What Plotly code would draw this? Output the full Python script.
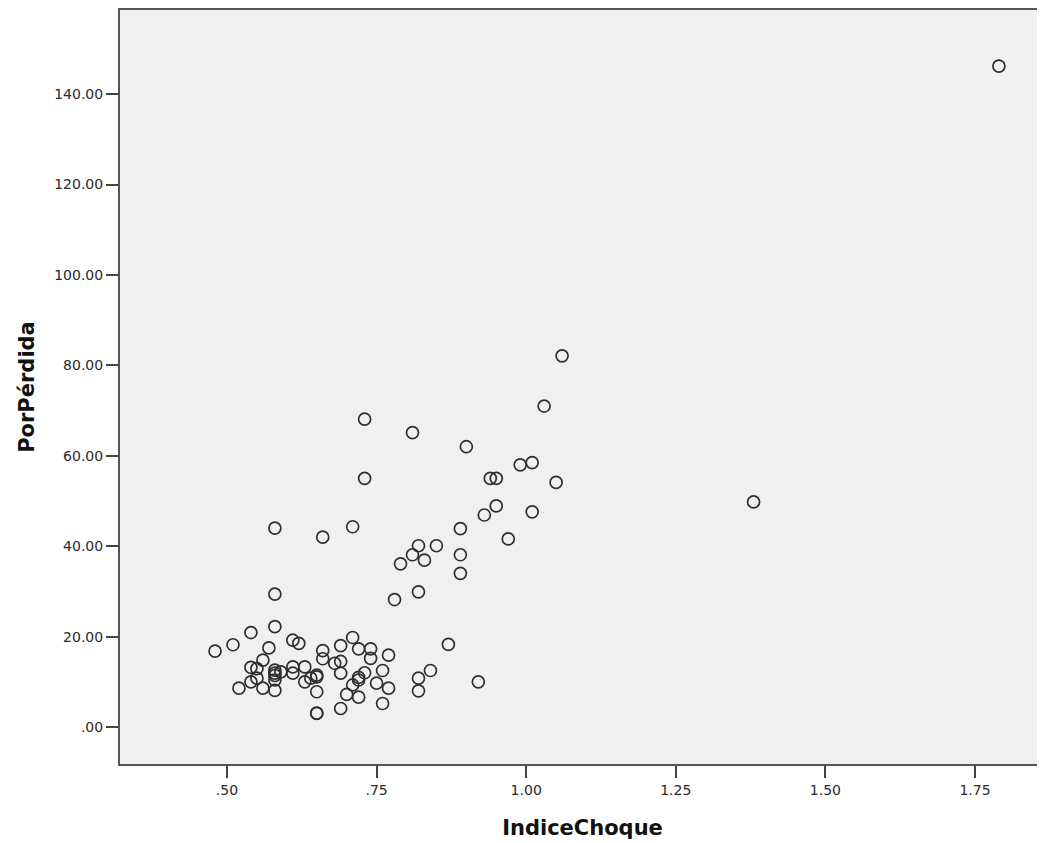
import plotly.graph_objects as go

indice_choque = [
    1.79, 1.38, 1.06, 1.03, 0.73, 0.81, 0.90, 0.73, 0.99, 1.01,
    0.94, 0.95, 1.05, 0.95, 0.93, 1.01, 0.89, 0.71, 0.58, 0.66,
    0.97, 0.82, 0.85, 0.81, 0.83, 0.79, 0.89, 0.89, 0.82, 0.78,
    0.58, 0.58, 0.54, 0.51, 0.48, 0.61, 0.62, 0.57, 0.66, 0.66,
    0.56, 0.54, 0.55, 0.58, 0.58, 0.59, 0.61, 0.63, 0.61, 0.58,
    0.54, 0.55, 0.52, 0.56, 0.58, 0.58, 0.63, 0.64, 0.65, 0.65,
    0.65, 0.65, 0.65, 0.69, 0.68, 0.69, 0.69, 0.71, 0.72, 0.74,
    0.74, 0.77, 0.70, 0.71, 0.72, 0.72, 0.73, 0.72, 0.69, 0.75,
    0.76, 0.77, 0.76, 0.82, 0.82, 0.84, 0.87, 0.92,
]
por_perdida = [
    146.2, 49.8, 82.1, 71.0, 68.1, 65.1, 62.0, 55.0, 58.0, 58.5,
    55.0, 55.0, 54.1, 48.9, 46.9, 47.6, 43.9, 44.3, 44.0, 42.0,
    41.6, 40.1, 40.1, 38.1, 36.9, 36.1, 38.1, 34.0, 29.9, 28.2,
    29.4, 22.2, 20.9, 18.2, 16.8, 19.2, 18.5, 17.5, 16.9, 15.1,
    14.8, 13.2, 12.9, 12.6, 11.9, 12.2, 13.3, 13.3, 11.9, 11.4,
    10.0, 10.8, 8.6, 8.6, 8.1, 10.4, 10.0, 10.8, 11.5, 11.1,
    7.8, 3.0, 3.1, 18.0, 14.1, 14.5, 11.9, 19.8, 17.3, 17.3,
    15.2, 15.9, 7.2, 9.3, 10.4, 11.0, 12.0, 6.6, 4.1, 9.7,
    12.5, 8.6, 5.2, 10.8, 8.0, 12.5, 18.3, 10.0,
]

x_tickvals = [0.50, 0.75, 1.00, 1.25, 1.50, 1.75]
x_ticktext = [".50", ".75", "1.00", "1.25", "1.50", "1.75"]
y_tickvals = [0, 20, 40, 60, 80, 100, 120, 140]
y_ticktext = [".00", "20.00", "40.00", "60.00", "80.00", "100.00", "120.00", "140.00"]

FONT = "DejaVu Sans, Liberation Sans, Arial, sans-serif"

fig = go.Figure()
fig.add_trace(go.Scatter(
    x=indice_choque, y=por_perdida, mode="markers",
    marker=dict(symbol="circle-open", size=12, color="#2e2e2e",
                line=dict(width=1.7, color="#2e2e2e")),
    showlegend=False, hoverinfo="x+y",
))

fig.update_layout(
    width=1037, height=835,
    margin=dict(l=112, r=0, t=2, b=79),
    paper_bgcolor="white",
    plot_bgcolor="#F0F0F0",
    font=dict(family=FONT, size=13, color="#222222"),
)
fig.update_xaxes(
    range=[0.3212, 1.867],
    tickvals=x_tickvals, ticktext=x_ticktext,
    ticks="outside", ticklen=12, tickwidth=1.5, tickcolor="#444444",
    showline=True, linecolor="#555555", linewidth=2, mirror=True,
    showgrid=False, zeroline=False, automargin=False,
    tickfont=dict(family=FONT, size=14, color="#2a2a2a"),
    title=dict(text="<b>IndiceChoque</b>", standoff=24,
               font=dict(family=FONT, size=21, color="#111111")),
)
fig.update_yaxes(
    range=[-8.18, 158.6],
    tickvals=y_tickvals, ticktext=y_ticktext,
    ticks="outside", ticklen=12, tickwidth=1.5, tickcolor="#444444",
    showline=True, linecolor="#555555", linewidth=2, mirror=False,
    showgrid=False, zeroline=False,
    tickfont=dict(family=FONT, size=14, color="#2a2a2a"),
    title=dict(text="<b>PorPérdida</b>", standoff=14,
               font=dict(family=FONT, size=21, color="#111111")),
)

fig.write_html("out.html")
